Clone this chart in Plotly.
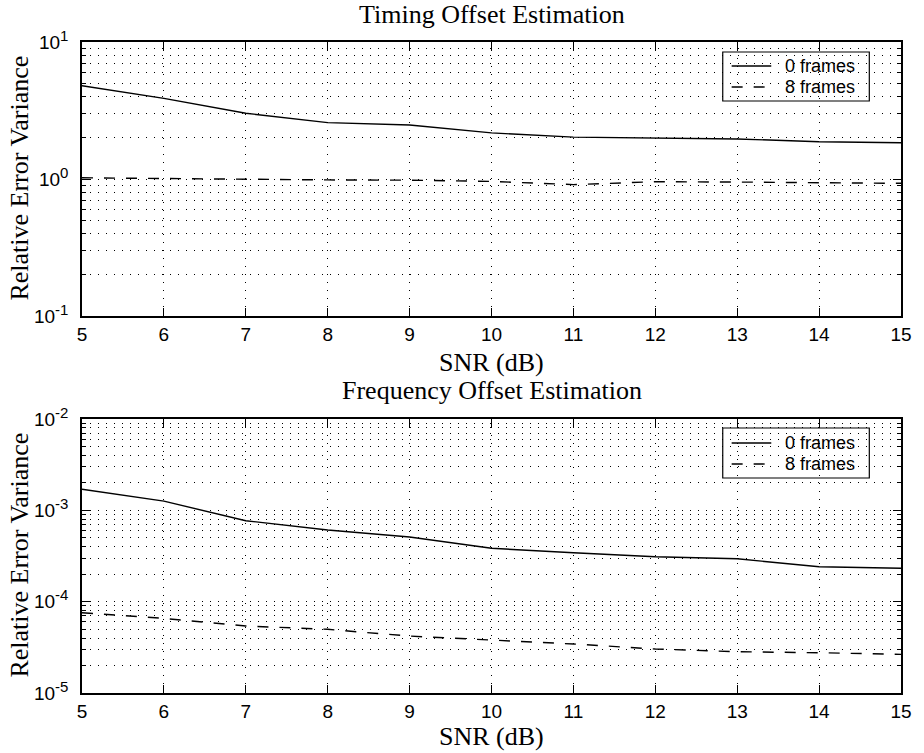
import plotly.graph_objects as go
from plotly.subplots import make_subplots

# SNR sweep (dB)
snr_db = [5, 6, 7, 8, 9, 10, 11, 12, 13, 14, 15]

# Timing offset estimation: relative error variance
timing_0_frames = [4.8, 3.88, 3.02, 2.58, 2.48, 2.17, 2.02, 1.98, 1.96, 1.87, 1.84]
timing_8_frames = [1.02, 1.005, 0.995, 0.985, 0.98, 0.96, 0.91, 0.955, 0.95, 0.945, 0.93]

# Frequency offset estimation: relative error variance
freq_0_frames = [1.70e-3, 1.26e-3, 7.7e-4, 6.1e-4, 5.1e-4, 3.84e-4, 3.43e-4, 3.1e-4, 2.95e-4, 2.41e-4, 2.32e-4]
freq_8_frames = [7.57e-5, 6.56e-5, 5.41e-5, 4.98e-5, 4.2e-5, 3.8e-5, 3.44e-5, 3.03e-5, 2.83e-5, 2.76e-5, 2.65e-5]

series_names = ["0 frames", "8 frames"]
x_ticks = list(range(5, 16))
top_decades = [-1, 0, 1]
bottom_decades = [-5, -4, -3, -2]

SERIF = "Liberation Serif, Times New Roman, serif"
SANS = "Liberation Sans, Arial, Helvetica, sans-serif"
GRID_DASH = "1px,7px"
LINE_DASH = "11px,11px"

# plotting area in pixels: x 82..909, y 42..693
PLOT_L, PLOT_R, PLOT_T, PLOT_B = 82, 909, 42, 693


def px(pixel):
    return (pixel - PLOT_L) / (PLOT_R - PLOT_L)


def py(pixel):
    return (PLOT_B - pixel) / (PLOT_B - PLOT_T)


fig = make_subplots(rows=2, cols=1, vertical_spacing=103 / 651)

solid = dict(color="black", width=1.4)
dashed = dict(color="black", width=1.4, dash=LINE_DASH)

fig.add_trace(go.Scatter(x=snr_db, y=timing_0_frames, mode="lines", line=solid,
                         name=series_names[0], showlegend=False), row=1, col=1)
fig.add_trace(go.Scatter(x=snr_db, y=timing_8_frames, mode="lines", line=dashed,
                         name=series_names[1], showlegend=False), row=1, col=1)
fig.add_trace(go.Scatter(x=snr_db, y=freq_0_frames, mode="lines", line=solid,
                         name=series_names[0], showlegend=False), row=2, col=1)
fig.add_trace(go.Scatter(x=snr_db, y=freq_8_frames, mode="lines", line=dashed,
                         name=series_names[1], showlegend=False), row=2, col=1)

xaxis_style = dict(
    range=[5, 15], tickvals=x_ticks, ticks="inside", ticklen=8, tickcolor="black",
    showline=True, linecolor="black", linewidth=1.5, mirror="ticks",
    showgrid=True, gridcolor="black", gridwidth=1, griddash=GRID_DASH,
    zeroline=False, tickfont=dict(family=SANS, size=19, color="black"),
)


def yaxis_style(decades):
    return dict(
        type="log", range=[decades[0], decades[-1]],
        tickvals=[10 ** d for d in decades],
        ticktext=[f"10<sup><span style='font-size:15px'>{d}</span></sup>" for d in decades],
        ticks="inside", ticklen=8, tickcolor="black", ticklabelstandoff=8,
        showline=True, linecolor="black", linewidth=1.5, mirror="ticks",
        showgrid=True, gridcolor="black", gridwidth=1, griddash=GRID_DASH,
        minor=dict(dtick="D1", ticks="inside", ticklen=4, tickcolor="black",
                   showgrid=True, gridcolor="black", gridwidth=1, griddash=GRID_DASH),
        zeroline=False, tickfont=dict(family=SANS, size=19, color="black"),
    )


fig.update_xaxes(**xaxis_style)
fig.update_yaxes(**yaxis_style(top_decades), row=1, col=1)
fig.update_yaxes(**yaxis_style(bottom_decades), row=2, col=1)

text_font = dict(family=SERIF, size=26, color="black")
legend_font = dict(family=SANS, size=18, color="black")

annotations = [
    dict(text="Timing Offset Estimation", x=0.5, y=py(14)),
    dict(text="SNR (dB)", x=0.5, y=py(362)),
    dict(text="Frequency Offset Estimation", x=0.5, y=py(391)),
    dict(text="SNR (dB)", x=0.5, y=py(736)),
    dict(text="Relative Error Variance", x=px(18), y=py(178), textangle=-90),
    dict(text="Relative Error Variance", x=px(18), y=py(555), textangle=-90),
]
annotations = [dict(a, xref="paper", yref="paper", xanchor="center", yanchor="middle",
                    showarrow=False, font=text_font) for a in annotations]

shapes = []

# legend boxes: (box top, box bottom, first row centre, second row centre)
legend_boxes = [(52, 101, 66, 87), (428, 478, 443, 464)]
for top, bottom, row0, row1 in legend_boxes:
    shapes.append(dict(type="rect", xref="paper", yref="paper",
                       x0=px(729), x1=px(877), y0=py(bottom), y1=py(top),
                       line=dict(color="black", width=1.2), fillcolor="rgba(0,0,0,0)"))
    for row, name, style in [(row0, series_names[0], solid), (row1, series_names[1], dashed)]:
        shapes.append(dict(type="line", xref="paper", yref="paper",
                           x0=px(738), x1=px(778), y0=py(row), y1=py(row),
                           line=style))
        annotations.append(dict(text=name, x=px(790), y=py(row), xref="paper", yref="paper",
                                xanchor="left", yanchor="middle", showarrow=False,
                                font=legend_font))

fig.update_layout(
    width=924, height=753,
    margin=dict(l=PLOT_L, r=924 - PLOT_R, t=PLOT_T, b=753 - PLOT_B),
    paper_bgcolor="white", plot_bgcolor="white",
    showlegend=False,
    annotations=annotations,
    shapes=shapes,
)

fig.write_html("out.html")
